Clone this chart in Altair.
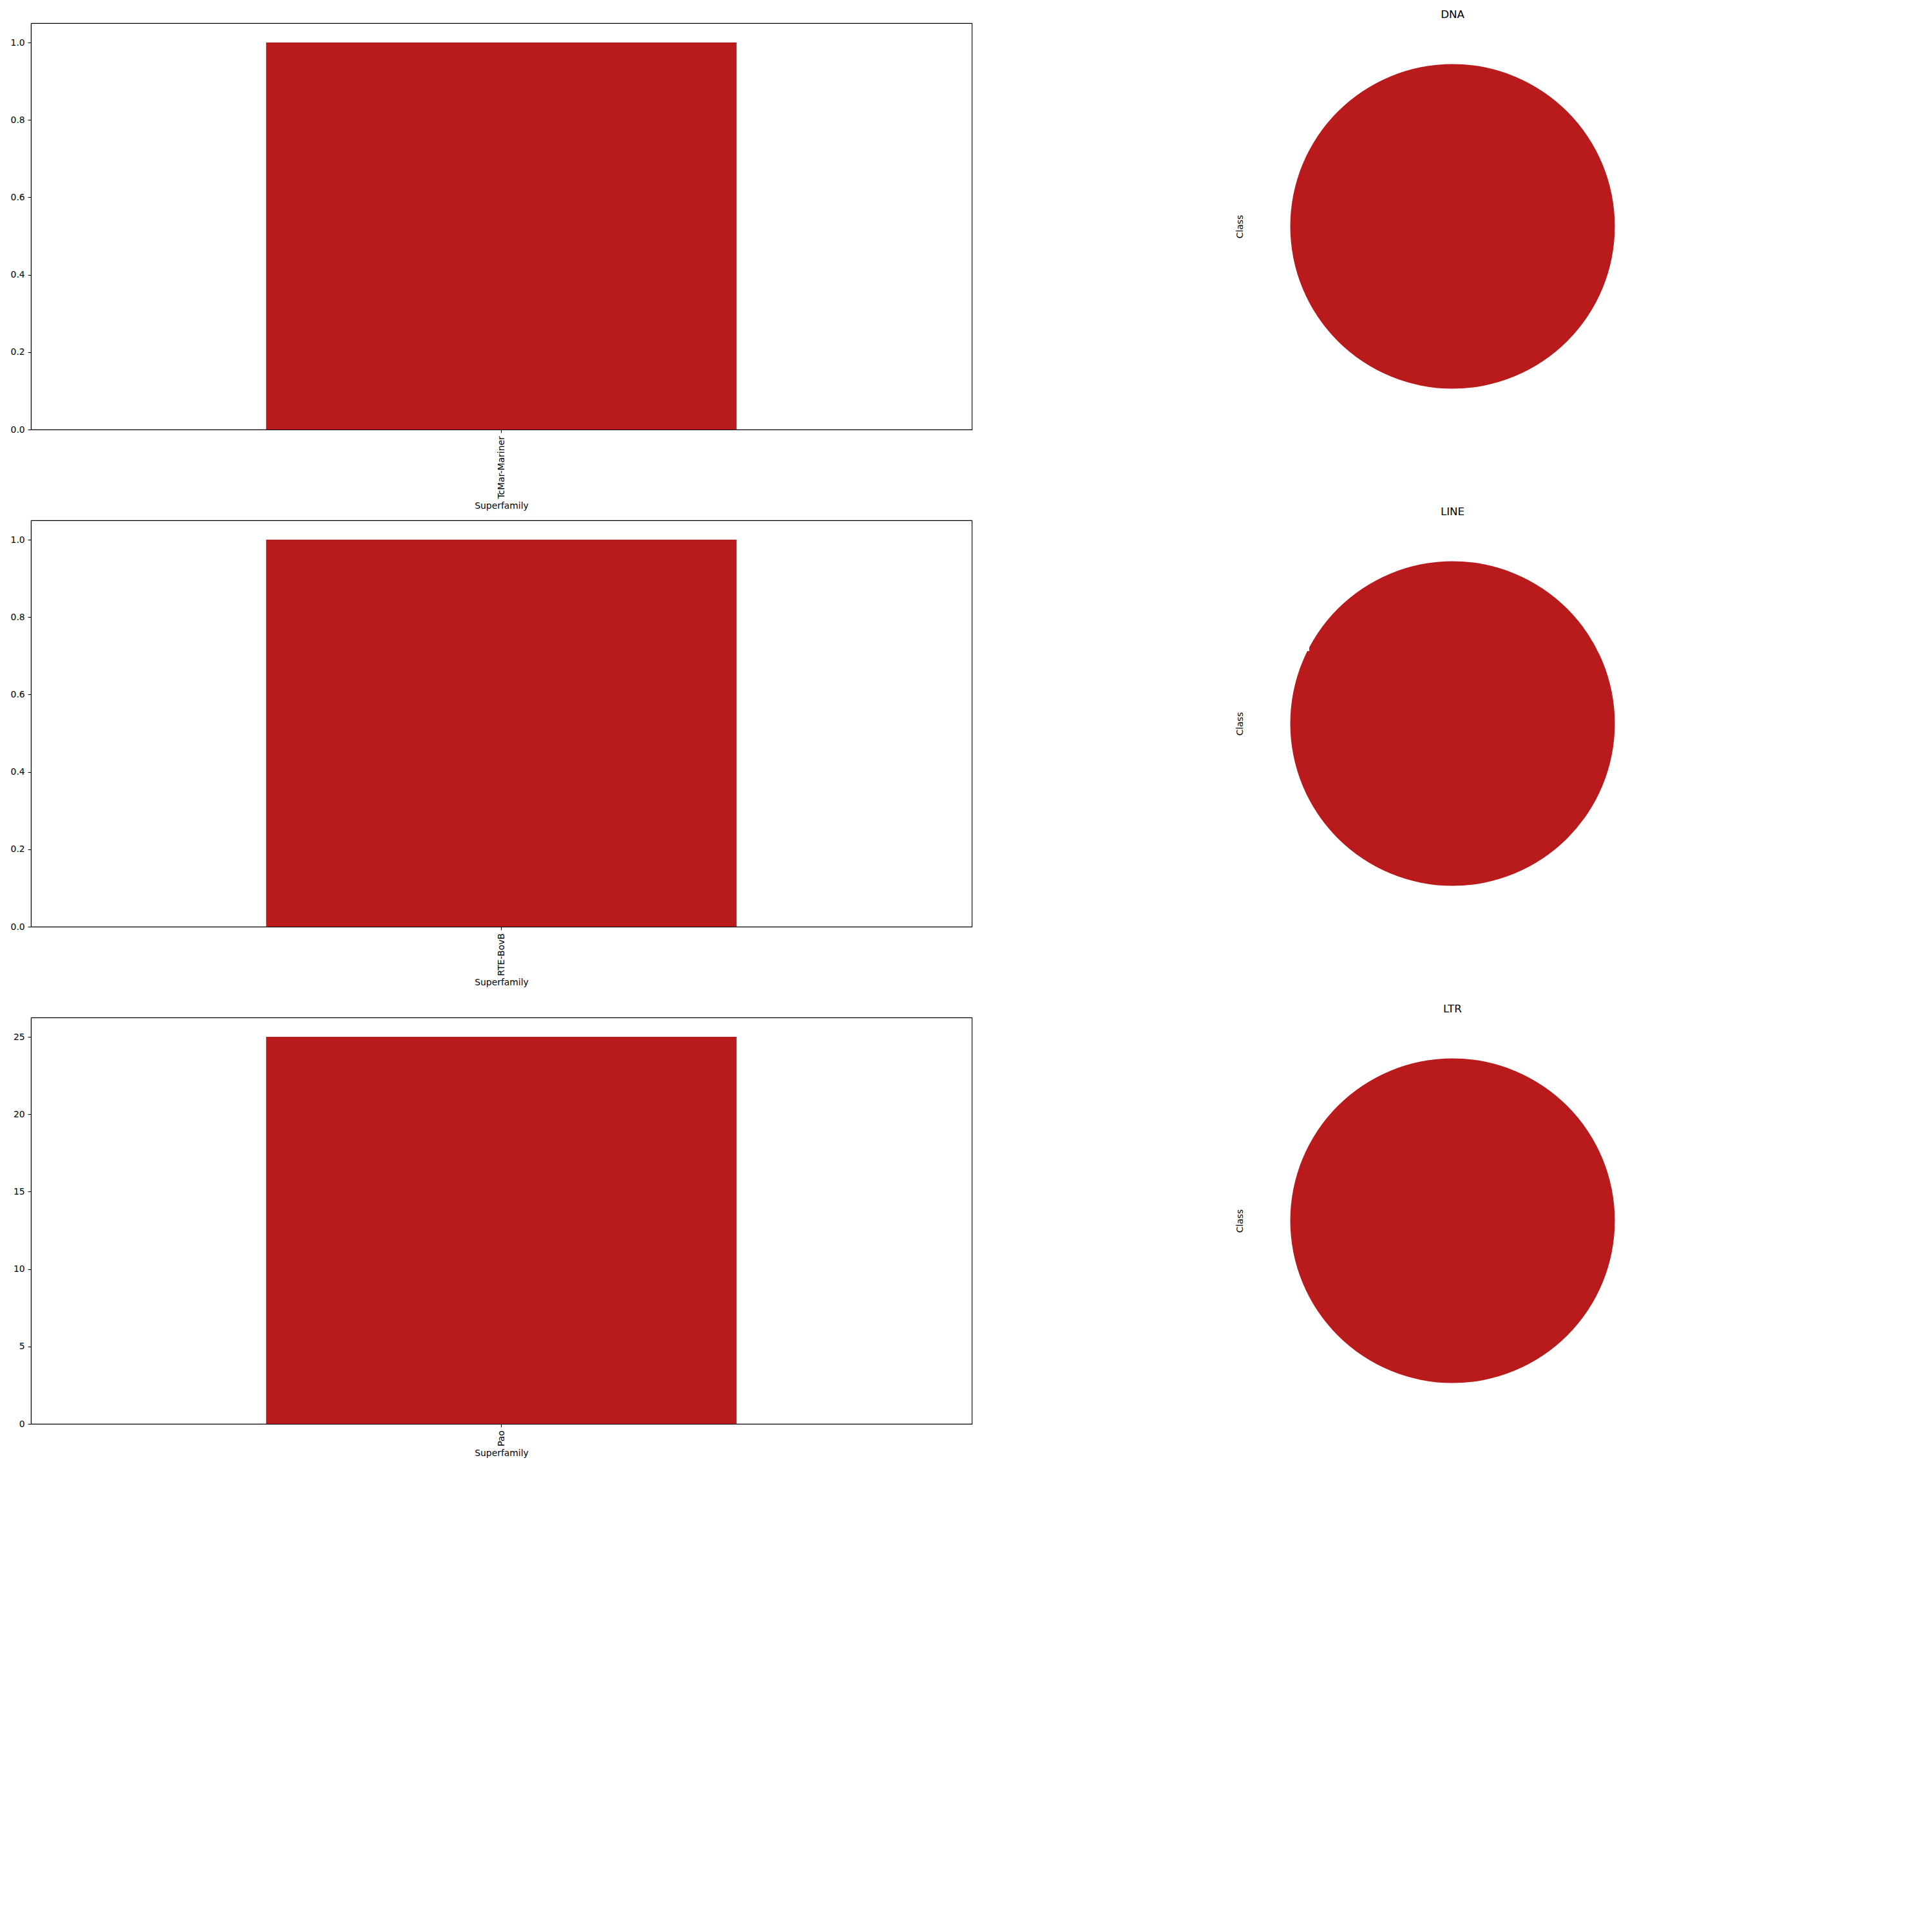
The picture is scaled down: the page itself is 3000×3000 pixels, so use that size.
import altair as alt
import pandas as pd

classes = ["DNA", "LINE", "LTR"]
superfamilies = ["TcMar-Mariner", "RTE-BovB", "Pao"]
counts = [1, 1, 25]
y_ticks = [
    [0.0, 0.2, 0.4, 0.6, 0.8, 1.0],
    [0.0, 0.2, 0.4, 0.6, 0.8, 1.0],
    [0, 5, 10, 15, 20, 25],
]
y_formats = [".1f", ".1f", "d"]

RED = "#b91a1b"
FONT = "DejaVu Sans"
BAR_W, BAR_H = 1461, 631
PIE_W = 631

panels = []
for cls, sf, n, ticks, fmt in zip(classes, superfamilies, counts, y_ticks, y_formats):
    df = pd.DataFrame({"Class": [cls], "Superfamily": [sf], "count": [n]})
    bar = (
        alt.Chart(df)
        .mark_bar(color=RED)
        .encode(
            x=alt.X(
                "Superfamily:N",
                scale=alt.Scale(paddingInner=0, paddingOuter=0.5),
                axis=alt.Axis(
                    title="Superfamily",
                    labelAngle=270,
                    titlePadding=4,
                ),
            ),
            y=alt.Y(
                "count:Q",
                scale=alt.Scale(domain=[0, n * 1.05], nice=False, zero=True),
                axis=alt.Axis(title=None, values=ticks, format=fmt),
            ),
        )
        .properties(width=BAR_W, height=BAR_H)
    )
    arc = (
        alt.Chart(df)
        .mark_arc(color=RED, outerRadius=252)
        .encode(theta=alt.Theta("count:Q", stack=True))
    )
    ylab = (
        alt.Chart(df)
        .mark_point(opacity=0)
        .encode(
            y=alt.Y(
                "count:Q",
                scale=alt.Scale(domain=[0, n * 2]),
                axis=alt.Axis(
                    title="Class",
                    labels=False,
                    ticks=False,
                    domain=False,
                    grid=False,
                    titleBaseline="alphabetic",
                    titleX=-11,
                    titleY=PIE_W / 2,
                    titleAngle=270,
                    titleAlign="center",
                ),
            )
        )
    )
    pie = (
        alt.layer(arc, ylab)
        .properties(
            width=PIE_W,
            height=BAR_H,
            title=alt.TitleParams(
                cls,
                anchor="middle",
                frame="group",
                baseline="alphabetic",
                offset=-9,
                fontSize=16.7,
                fontWeight="normal",
                font=FONT,
                color="black",
            ),
            view=alt.ViewBackground(stroke="transparent"),
        )
    )
    panels.extend([bar, pie])

chart = (
    alt.concat(*panels, columns=2, bounds="flush", spacing={"row": 141, "column": 431})
    .properties(padding={"left": 7, "top": 6, "right": 5, "bottom": 5})
    .configure(font=FONT)
    .configure_view(stroke="black", strokeWidth=1.1)
    .configure_axis(
        grid=False,
        domainColor="black",
        domainWidth=1.1,
        tickColor="black",
        tickWidth=1.1,
        tickSize=4.9,
        labelPadding=4.9,
        labelFont=FONT,
        labelFontSize=13.9,
        labelColor="black",
        titleFont=FONT,
        titleFontSize=13.9,
        titleFontWeight="normal",
        titleColor="black",
    )
)

chart.save("out.html", embed_options={"renderer": "svg", "actions": False})
